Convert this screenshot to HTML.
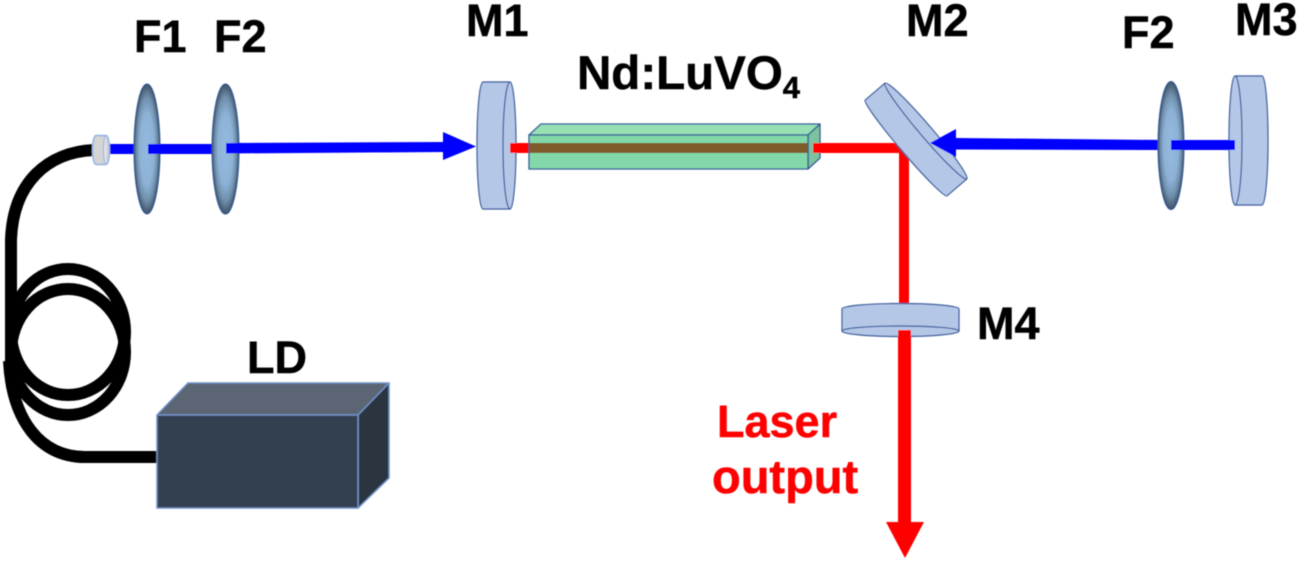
<!DOCTYPE html>
<html>
<head>
<meta charset="utf-8">
<style>
html,body{margin:0;padding:0;background:#fff;width:1301px;height:563px;overflow:hidden}
svg{display:block}
text{font-family:"Liberation Sans",sans-serif;font-weight:bold;font-size:45px;fill:#000;stroke:#000;stroke-width:0.5px}
.r{fill:#ff0000;stroke:#ff0000}
.g{filter:url(#b)}
</style>
</head>
<body>
<svg width="1301" height="563" viewBox="0 0 1301 563" xmlns="http://www.w3.org/2000/svg">
<defs>
<radialGradient id="lens" cx="50%" cy="50%" r="50%">
<stop offset="0" stop-color="#94badf"/>
<stop offset="0.55" stop-color="#8db2d6"/>
<stop offset="0.8" stop-color="#6f8fac"/>
<stop offset="1" stop-color="#3f5265"/>
</radialGradient>
<filter id="b" x="-2%" y="-2%" width="104%" height="104%"><feGaussianBlur stdDeviation="0.5"/></filter>
</defs>
<g class="g">
<!-- fiber -->
<g fill="none" stroke="#000" stroke-width="12">
<path d="M94 150 C48 152 13 182 11 240 L11 365"/>
<ellipse cx="68" cy="332" rx="57" ry="63"/>
<ellipse cx="68" cy="352" rx="57" ry="63"/>
<path d="M157 457 L85 457 C40 457 12 420 9 361"/>
</g>
<!-- LD box -->
<g stroke="#6f8fc4" stroke-width="1.5" stroke-linejoin="round">
<polygon points="157,415 188,383 389,383 358,415" fill="#5b6573"/>
<polygon points="358,415 389,383 389,478 358,508" fill="#2a343f"/>
<rect x="157" y="415" width="201" height="93" fill="#333f50"/>
</g>
<!-- pump beam left -->
<rect x="108" y="144" width="30" height="10" fill="#0000ff"/>
<ellipse cx="147" cy="149" rx="13" ry="65" fill="url(#lens)" stroke="#2f5597" stroke-width="1"/>
<rect x="148" y="144" width="70" height="10" fill="#0000ff"/>
<ellipse cx="225.500" cy="149" rx="13.500" ry="65" fill="url(#lens)" stroke="#2f5597" stroke-width="1"/>
<polygon points="226,143 446,142 446,152 226,153.500" fill="#0000ff"/>
<polygon points="443,132 476,146.500 443,160" fill="#0000ff"/>
<!-- connector -->
<path d="M96 135.500 L106 135.500 A3.500 14.500 0 0 1 106 164.500 L96 164.500 A3.500 14.500 0 0 1 96 135.500 Z" fill="#d4d4d4" stroke="#8fb0e4" stroke-width="1.500"/>
<path d="M106 135.500 A2.500 14.500 0 0 0 106 164.500" fill="#e4e4e4" stroke="#8fb0e4" stroke-width="1"/>
<!-- M1 -->
<path d="M483 82 L510 82 A6 63.500 0 0 1 510 209 L483 209 A6 63.500 0 0 1 483 82 Z" fill="#b4c7e7" stroke="#2f5597" stroke-width="1.200"/>
<path d="M510 82 A7 63.500 0 0 0 510 209" fill="none" stroke="#2f5597" stroke-width="1.200"/>
<!-- red inner -->
<rect x="510" y="143" width="20" height="10" fill="#ff0000"/>
<!-- crystal -->
<g stroke="#2f5597" stroke-width="1.300" stroke-linejoin="round">
<polygon points="529,135 541,124 820,124 808,135" fill="#97e0b4"/>
<polygon points="808,135 820,124 820,158 808,169" fill="#7cc29c"/>
<rect x="529" y="135" width="279" height="34" fill="#82d8a8"/>
</g>
<rect x="529.500" y="143" width="278" height="10" fill="#7f5a2a"/>
<!-- red beams -->
<rect x="813" y="143" width="90" height="10" fill="#ff0000"/>
<rect x="899" y="143" width="10" height="161" fill="#ff0000"/>
<!-- M2 -->
<g transform="translate(916 139.500) rotate(-40.500)">
<path d="M-13 -63 L13 -63 A6 63 0 0 1 13 63 L-13 63 A5 63 0 0 1 -13 -63 Z" fill="#b4c7e7" stroke="#2f5597" stroke-width="1.200"/>
<path d="M13 -63 A6 63 0 0 0 13 63" fill="none" stroke="#2f5597" stroke-width="1.200"/>
</g>
<!-- M4 -->
<path d="M842 309 A58.500 5.500 0 0 1 959 309 L959 331 A58.500 5.500 0 0 1 842 331 Z" fill="#b4c7e7" stroke="#2f5597" stroke-width="1.200"/>
<path d="M842 331 A58.500 5 0 0 1 959 331" fill="none" stroke="#2f5597" stroke-width="1.200"/>
<rect x="898" y="330" width="13" height="195" fill="#ff0000"/>
<polygon points="886,522 924,522 905,558" fill="#ff0000"/>
<!-- right lens, beam, M3 -->
<polygon points="956,138 1165,140 1165,150 956,149.500" fill="#0000ff"/>
<polygon points="930,143 956,129 956,157" fill="#0000ff"/>
<ellipse cx="1171" cy="145.500" rx="13" ry="64" fill="url(#lens)" stroke="#2f5597" stroke-width="1"/>
<path d="M1235 76 L1262 76 A6 64.500 0 0 1 1262 205 L1235 205 A6 64.500 0 0 1 1235 76 Z" fill="#b4c7e7" stroke="#2f5597" stroke-width="1.200"/>
<path d="M1235 76 A7 64.500 0 0 1 1235 205" fill="none" stroke="#2f5597" stroke-width="1.200"/>
<rect x="1171" y="140" width="64" height="10" fill="#0000ff"/>
<!-- labels -->
<text x="134" y="52">F1</text>
<text x="214" y="52">F2</text>
<text x="466" y="36">M1</text>
<text x="577" y="89" style="font-size:47.500px">Nd:LuVO<tspan dy="9" style="font-size:31px">4</tspan></text>
<text x="906" y="36">M2</text>
<text x="1122" y="48">F2</text>
<text x="1235" y="35">M3</text>
<text x="977" y="339">M4</text>
<text x="247" y="373">LD</text>
<text x="717" y="437" class="r">Laser</text>
<text x="712" y="493" class="r" style="font-size:47px">output</text>
</g>
</svg>
</body>
</html>
